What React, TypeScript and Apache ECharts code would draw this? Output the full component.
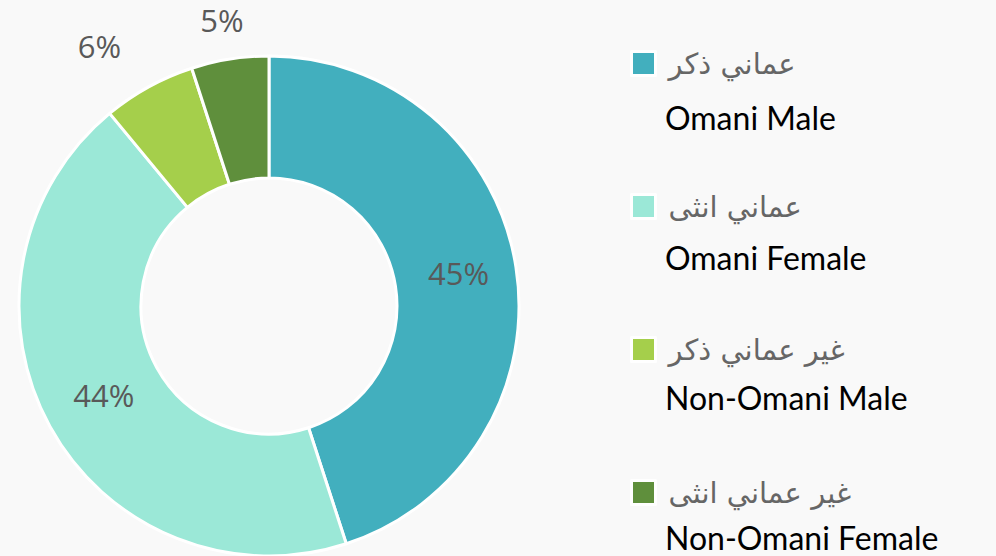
import React, { useEffect, useRef } from "react";
import * as echarts from "echarts";

const arabicNames = ["عماني ذكر", "عماني انثى", "غير عماني ذكر", "غير عماني انثى"];
const englishNames = ["Omani Male", "Omani Female", "Non-Omani Male", "Non-Omani Female"];
const shares = [45, 44, 6, 5];
const colors = ["#42AFBE", "#9BE8D7", "#A5CF4B", "#5F8F3C"];

export default function App() {
  const ref = useRef<HTMLDivElement>(null);
  useEffect(() => {
    if (!ref.current) return;
    const chart = echarts.init(ref.current, undefined, { renderer: "svg" });
    const legendTop = 49;
    const legendStep = 140;
    const itemH = 26;
    const data = shares.map((v, i) => ({
      value: v,
      name: arabicNames[i],
      itemStyle: { color: colors[i] },
    }));
    chart.setOption({
      animation: false,
      backgroundColor: "#F9F9F9",
      legend: {
        orient: "vertical",
        left: 630,
        top: legendTop,
        padding: 0,
        itemWidth: 24,
        itemHeight: 24,
        itemGap: legendStep - itemH,
        icon: "rect",
        selectedMode: false,
        itemStyle: { borderColor: "#ffffff", borderWidth: 3 },
        textStyle: {
          color: "#666666",
          fontSize: 29,
          lineHeight: itemH,
          fontFamily: "DejaVu Sans, Noto Sans, sans-serif",
          padding: [0, 0, 0, 8],
        },
        data: arabicNames,
      },
      graphic: englishNames.map((n, i) => ({
        type: "text",
        left: 665,
        top: 122 - 19 - 2 + i * legendStep,
        style: {
          text: n,
          fontSize: 32,
          fill: "#000000",
          fontFamily: "Lato, Open Sans, sans-serif",
        },
      })),
      series: [
        {
          type: "pie",
          center: [269, 306],
          radius: [128, 250],
          startAngle: 90,
          clockwise: true,
          avoidLabelOverlap: false,
          itemStyle: { borderColor: "#ffffff", borderWidth: 3 },
          label: {
            show: true,
            position: "inside",
            formatter: "{c}%",
            color: "#595959",
            fontSize: 31,
            fontFamily: "Open Sans, Lato, sans-serif",
          },
          labelLine: { show: false },
          labelLayout: (p: any) => {
            if (p.dataIndex === 0) return { dy: -3 };
            if (p.dataIndex === 1) return { dx: 3, dy: -3 };
            if (p.dataIndex === 2) return { dx: -77, dy: -92 };
            if (p.dataIndex === 3) return { dx: -17, dy: -96 };
            return {};
          },
          data,
        },
      ],
    });
    return () => chart.dispose();
  }, []);
  return (
    <div
      ref={ref}
      style={{ position: "absolute", left: 0, top: 0, width: 996, height: 556 }}
    />
  );
}
